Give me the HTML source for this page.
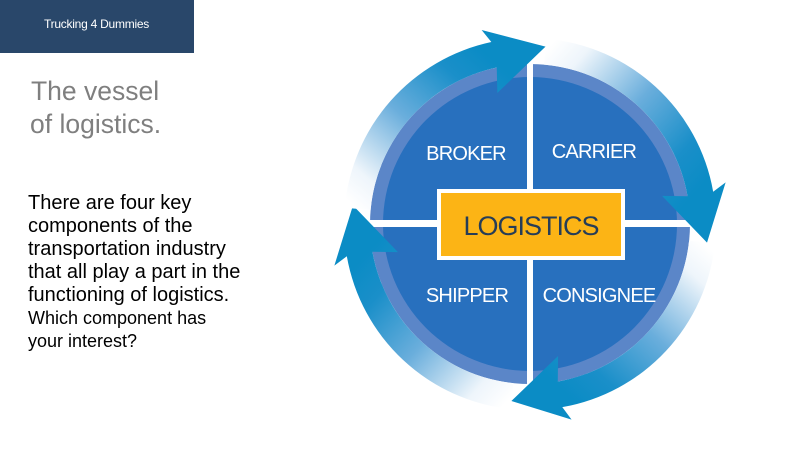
<!DOCTYPE html>
<html>
<head>
<meta charset="utf-8">
<style>
  html, body { margin: 0; padding: 0; background: #ffffff; }
  body { width: 809px; height: 455px; overflow: hidden; }
  svg { display: block; }
  text { font-family: "Liberation Sans", Arial, sans-serif; }
</style>
</head>
<body>
<svg width="809" height="455" viewBox="0 0 809 455" xmlns="http://www.w3.org/2000/svg">
  <defs>
    <linearGradient id="g1" gradientUnits="userSpaceOnUse" x1="357.66" y1="208.92" x2="488.15" y2="56.14">
      <stop offset="0" stop-color="#ffffff"/>
      <stop offset="0.15" stop-color="#eef5fb"/>
      <stop offset="0.5" stop-color="#6aaedc"/>
      <stop offset="0.82" stop-color="#1a8fc9"/>
      <stop offset="1" stop-color="#0b8cc5"/>
    </linearGradient>
    <linearGradient id="g2" gradientUnits="userSpaceOnUse" x1="545.08" y1="51.66" x2="699.22" y2="188.03">
      <stop offset="0" stop-color="#ffffff"/>
      <stop offset="0.15" stop-color="#eef5fb"/>
      <stop offset="0.5" stop-color="#6aaedc"/>
      <stop offset="0.82" stop-color="#1a8fc9"/>
      <stop offset="1" stop-color="#0b8cc5"/>
    </linearGradient>
    <linearGradient id="g3" gradientUnits="userSpaceOnUse" x1="702.05" y1="242.08" x2="565.97" y2="393.22">
      <stop offset="0" stop-color="#ffffff"/>
      <stop offset="0.15" stop-color="#eef5fb"/>
      <stop offset="0.5" stop-color="#6aaedc"/>
      <stop offset="0.82" stop-color="#1a8fc9"/>
      <stop offset="1" stop-color="#0b8cc5"/>
    </linearGradient>
    <linearGradient id="g4" gradientUnits="userSpaceOnUse" x1="511.92" y1="396.05" x2="360.78" y2="259.97">
      <stop offset="0" stop-color="#ffffff"/>
      <stop offset="0.15" stop-color="#eef5fb"/>
      <stop offset="0.5" stop-color="#6aaedc"/>
      <stop offset="0.82" stop-color="#1a8fc9"/>
      <stop offset="1" stop-color="#0b8cc5"/>
    </linearGradient>
  </defs>

  <!-- Header bar -->
  <rect x="0" y="0" width="194" height="53" fill="#29476a"/>
  <text x="96.5" y="28" text-anchor="middle" font-size="12" letter-spacing="-0.25" fill="#ffffff">Trucking 4 Dummies</text>

  <!-- Title -->
  <text x="31" y="100" font-size="26.5" fill="#7f7f7f">The vessel</text>
  <text x="30" y="133" font-size="26.5" fill="#7f7f7f">of logistics.</text>

  <!-- Body text -->
  <g font-size="20" fill="#000000">
    <text x="28" y="209">There are four key</text>
    <text x="28" y="232">components of the</text>
    <text x="28" y="255">transportation industry</text>
    <text x="28" y="278">that all play a part in the</text>
    <text x="28" y="301">functioning of logistics.</text>
  </g>
  <g font-size="18" fill="#000000">
    <text x="28" y="324">Which component has</text>
    <text x="28" y="347">your interest?</text>
  </g>

  <!-- Disc -->
  <circle cx="530" cy="224" r="160" fill="#5b86c8"/>
  <circle cx="530" cy="224" r="147" fill="#2870be"/>
  <!-- White cross -->
  <rect x="527" y="60" width="6" height="330" fill="#ffffff"/>
  <rect x="365" y="220" width="330" height="7" fill="#ffffff"/>

  <!-- Arrows -->
  <path d="M 546.21,38.71 A 186 186 0 0 1 713.17,191.70 L 725.63,182.42 L 707.02,242.61 L 662.05,195.93 L 687.57,196.22 A 160 160 0 0 0 543.95,64.61 Z" fill="url(#g2)"/>
  <path d="M 714.98,243.44 A 186 186 0 0 1 562.30,407.17 L 571.58,419.63 L 511.39,401.02 L 558.07,356.05 L 557.78,381.57 A 160 160 0 0 0 689.12,240.72 Z" fill="url(#g3)"/>
  <path d="M 510.56,408.98 A 186 186 0 0 1 346.83,256.30 L 334.37,265.58 L 352.98,205.39 L 397.95,252.07 L 372.43,251.78 A 160 160 0 0 0 513.28,383.12 Z" fill="url(#g4)"/>
  <path d="M 344.71,207.79 A 186 186 0 0 1 491.33,42.06 L 481.62,29.94 L 545.51,46.68 L 497.34,93.01 L 496.73,67.50 A 160 160 0 0 0 370.61,210.05 Z" fill="url(#g1)"/>

  <!-- Quadrant labels -->
  <g font-size="20" fill="#ffffff" text-anchor="middle" letter-spacing="-0.8">
    <text x="466" y="160">BROKER</text>
    <text x="594" y="158">CARRIER</text>
    <text x="467" y="302">SHIPPER</text>
    <text x="599" y="302">CONSIGNEE</text>
  </g>

  <!-- Center box -->
  <rect x="437" y="189" width="188" height="71" fill="#ffffff"/>
  <rect x="441" y="193" width="180" height="63" fill="#fcb415"/>
  <text x="531" y="235" text-anchor="middle" font-size="27" letter-spacing="-1" fill="#263d57">LOGISTICS</text>
</svg>
</body>
</html>
